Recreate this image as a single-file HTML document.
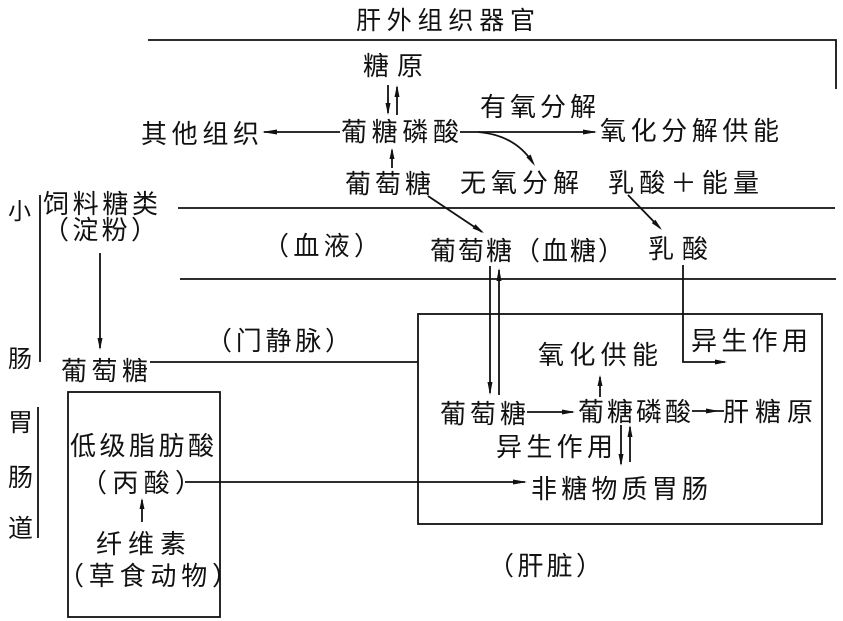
<!DOCTYPE html>
<html>
<head>
<meta charset="utf-8">
<style>
html,body{margin:0;padding:0;background:#fff;}
body{width:843px;height:621px;overflow:hidden;}
svg{display:block;}
text{font-family:"Liberation Sans","Noto Sans CJK SC",sans-serif;font-size:26px;fill:#111;}
</style>
</head>
<body>
<svg width="843" height="621" viewBox="0 0 843 621" xmlns="http://www.w3.org/2000/svg">
<g stroke="#111" stroke-width="1.8" fill="none">
  <polyline points="148,40 836,40 836,89"/>
  <line x1="178" y1="208" x2="835" y2="208"/>
  <line x1="180" y1="279" x2="836" y2="279"/>
  <line x1="40" y1="195" x2="40" y2="362"/>
  <line x1="38" y1="407" x2="38" y2="538"/>
  <rect x="68" y="392" width="152" height="225"/>
  <rect x="418" y="314" width="404" height="210"/>
  <line x1="388" y1="85" x2="388" y2="113"/>
  <line x1="397" y1="87" x2="397" y2="115"/>
  <line x1="264" y1="132" x2="340" y2="132"/>
  <line x1="392" y1="150" x2="392" y2="168"/>
  <line x1="460" y1="132" x2="595" y2="132"/>
  <path d="M478,132 Q515,135 533,163"/>
  <line x1="428" y1="196" x2="482" y2="232"/>
  <line x1="628" y1="195" x2="660" y2="228"/>
  <line x1="490" y1="266" x2="490" y2="393"/>
  <line x1="499" y1="270" x2="499" y2="395"/>
  <polyline points="683,265 683,362 725,362"/>
  <line x1="100" y1="253" x2="100" y2="348"/>
  <line x1="150" y1="362" x2="418" y2="362"/>
  <line x1="185" y1="482" x2="525" y2="482"/>
  <line x1="142" y1="500" x2="142" y2="522"/>
  <line x1="527" y1="412" x2="573" y2="412"/>
  <line x1="692" y1="411" x2="724" y2="411"/>
  <line x1="600" y1="377" x2="600" y2="397"/>
  <line x1="621" y1="425" x2="621" y2="464"/>
  <line x1="630" y1="427" x2="630" y2="462"/>
</g>
<g fill="#111" stroke="none">
  <polygon points="388,115 385.5,103 390.5,103"/>
  <polygon points="397,85 394.5,97 399.5,97"/>
  <polygon points="262,132 277,129.5 277,134.5"/>
  <polygon points="392,148 389.5,159 394.5,159"/>
  <polygon points="597,132 583,129.5 583,134.5"/>
  <polygon points="535,166 526.4,157.3 530.6,154.5"/>
  <polygon points="484,233 472.6,228.5 475.4,224.3"/>
  <polygon points="662,230 651.8,223.1 655.4,219.7"/>
  <polygon points="490,395 487.5,382 492.5,382"/>
  <polygon points="499,268 496.5,281 501.5,281"/>
  <polygon points="727,362 715,359.5 715,364.5"/>
  <polygon points="100,350 97.5,338 102.5,338"/>
  <polygon points="527,482 513,479.5 513,484.5"/>
  <polygon points="142,498 139.5,509 144.5,509"/>
  <polygon points="575,412 562,409.5 562,414.5"/>
  <polygon points="719,411 706,408.5 706,413.5"/>
  <polygon points="600,375 597.5,386 602.5,386"/>
  <polygon points="621,466 618.5,454 623.5,454"/>
  <polygon points="630,425 627.5,437 632.5,437"/>
</g>
<g>
  <text x="356" y="29" style="font-size:25px" textLength="179" lengthAdjust="spacing">肝外组织器官</text>
  <text x="363" y="75" textLength="60" lengthAdjust="spacing">糖原</text>
  <text x="141" y="143" textLength="118" lengthAdjust="spacing">其他组织</text>
  <text x="341" y="141" textLength="118" lengthAdjust="spacing">葡糖磷酸</text>
  <text x="480" y="116" textLength="116" lengthAdjust="spacing">有氧分解</text>
  <text x="600" y="140" textLength="179" lengthAdjust="spacing">氧化分解供能</text>
  <text x="345" y="193" textLength="86" lengthAdjust="spacing">葡萄糖</text>
  <text x="460" y="192" textLength="119" lengthAdjust="spacing">无氧分解</text>
  <text x="608" y="192" textLength="151" lengthAdjust="spacing">乳酸＋能量</text>
  <text x="8" y="219" style="font-size:23px">小</text>
  <text x="43" y="213" textLength="115" lengthAdjust="spacing">饲料糖类</text>
  <text x="43" y="239" textLength="114" lengthAdjust="spacing">（淀粉）</text>
  <text x="263" y="255" textLength="117" lengthAdjust="spacing">（血液）</text>
  <text x="430" y="260" textLength="194" lengthAdjust="spacing">葡萄糖（血糖）</text>
  <text x="648" y="258" textLength="60" lengthAdjust="spacing">乳酸</text>
  <text x="206" y="350" textLength="145" lengthAdjust="spacing">（门静脉）</text>
  <text x="8" y="367" style="font-size:24px">肠</text>
  <text x="61" y="380" textLength="87" lengthAdjust="spacing">葡萄糖</text>
  <text x="8" y="431" style="font-size:25px">胃</text>
  <text x="8" y="486" style="font-size:25px">肠</text>
  <text x="8" y="537" style="font-size:25px">道</text>
  <text x="70" y="455" textLength="144" lengthAdjust="spacing">低级脂肪酸</text>
  <text x="81" y="492" textLength="120" lengthAdjust="spacing">（丙酸）</text>
  <text x="96" y="553" textLength="90" lengthAdjust="spacing">纤维素</text>
  <text x="58" y="585" textLength="180" lengthAdjust="spacing">（草食动物）</text>
  <text x="691" y="350" textLength="117" lengthAdjust="spacing">异生作用</text>
  <text x="538" y="364" textLength="120" lengthAdjust="spacing">氧化供能</text>
  <text x="440" y="423" textLength="86" lengthAdjust="spacing">葡萄糖</text>
  <text x="578" y="421" textLength="113" lengthAdjust="spacing">葡糖磷酸</text>
  <text x="723" y="421" textLength="90" lengthAdjust="spacing">肝糖原</text>
  <text x="496" y="456" textLength="117" lengthAdjust="spacing">异生作用</text>
  <text x="531" y="498" textLength="177" lengthAdjust="spacing">非糖物质胃肠</text>
  <text x="488" y="575" textLength="114" lengthAdjust="spacing">（肝脏）</text>
</g>
</svg>
</body>
</html>
